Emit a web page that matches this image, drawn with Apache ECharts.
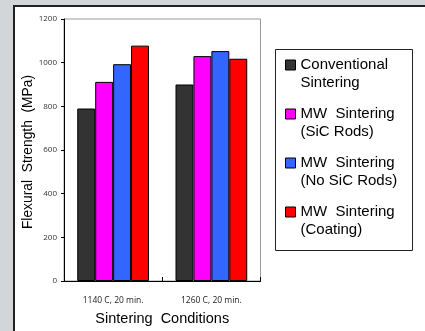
<!DOCTYPE html>
<html>
<head>
<meta charset="utf-8">
<script src="https://cdn.jsdelivr.net/npm/echarts@6/dist/echarts.min.js"></script>
<style>
html,body{margin:0;padding:0;background:#d3d6d9;}
#c{width:425px;height:331px;}
</style>
</head>
<body>
<div id="c"></div>
<script>
const categories = ['1140 C, 20 min.', '1260 C, 20 min.'];
const seriesNames = ['Conventional Sintering', 'MW Sintering (SiC Rods)', 'MW Sintering (No SiC Rods)', 'MW Sintering (Coating)'];
const legendLines = ['Conventional\nSintering', 'MW  Sintering\n(SiC Rods)', 'MW  Sintering\n(No SiC Rods)', 'MW  Sintering\n(Coating)'];
const conventional = [790, 900];
const mwSicRods = [912, 1030];
const mwNoSicRods = [993, 1053];
const mwCoating = [1078, 1018];
const yTicks = [0, 200, 400, 600, 800, 1000, 1200];
const colors = ['#333333', '#ff00ff', '#3366ff', '#ff0000'];

const values = [conventional, mwSicRods, mwNoSicRods, mwCoating];
const chart = echarts.init(document.getElementById('c'), null, {renderer: 'canvas'});
chart.setOption({
  animation: false,
  backgroundColor: 'transparent',
  graphic: [{
    type: 'rect', z: -10, silent: true,
    shape: {x: 14, y: 6, width: 420, height: 340},
    style: {fill: '#ffffff', stroke: '#222222', lineWidth: 2}
  }, {
    type: 'rect', z: -5, silent: true,
    shape: {x: 275.5, y: 49.5, width: 137, height: 201},
    style: {fill: '#ffffff', stroke: '#222222', lineWidth: 1}
  }],
  grid: {left: 64, top: 19, right: 164.5, bottom: 44, show: true, borderColor: '#999999', borderWidth: 1, backgroundColor: '#ffffff'},
  legend: {
    orient: 'vertical',
    left: 285, top: 38,
    padding: 0,
    itemWidth: 10, itemHeight: 10,
    itemGap: -5,
    icon: 'rect',
    data: seriesNames,
    formatter: function (name) { return '\n' + legendLines[seriesNames.indexOf(name)]; },
    textStyle: {fontFamily: 'Liberation Sans', fontSize: 15, color: '#000', lineHeight: 18},
    itemStyle: {borderColor: '#000', borderWidth: 1}
  },
  xAxis: {
    type: 'category',
    data: categories,
    name: 'Sintering  Conditions',
    nameLocation: 'middle',
    nameGap: 30,
    nameTextStyle: {fontFamily: 'Liberation Sans', fontSize: 14.5, color: '#000'},
    axisLine: {lineStyle: {color: '#000', width: 1}},
    axisTick: {show: true, inside: true, length: 4, lineStyle: {color: '#000'}},
    axisLabel: {fontFamily: 'Open Sans', fontSize: 8.5, color: '#222', margin: 15}
  },
  yAxis: {
    type: 'value',
    min: 0, max: 1200, interval: 200,
    name: 'Flexural  Strength  (MPa)',
    nameLocation: 'middle',
    nameGap: 29,
    nameTextStyle: {fontFamily: 'Liberation Sans', fontSize: 13.8, color: '#000', padding: [0, 4, 0, 0]},
    axisLine: {show: true, lineStyle: {color: '#000', width: 1}},
    axisTick: {show: true, length: 3, lineStyle: {color: '#000'}},
    splitLine: {show: false},
    axisLabel: {fontFamily: 'Open Sans', fontSize: 8, color: '#333', margin: 7,
      formatter: function (v) { return yTicks.indexOf(v) >= 0 ? String(v) : ''; }}
  },
  series: seriesNames.map(function (n, i) {
    return {
      name: n, type: 'bar', data: values[i],
      barGap: '0%', barCategoryGap: '27%',
      itemStyle: {color: colors[i], borderColor: '#000', borderWidth: 1}
    };
  })
});
</script>
</body>
</html>
